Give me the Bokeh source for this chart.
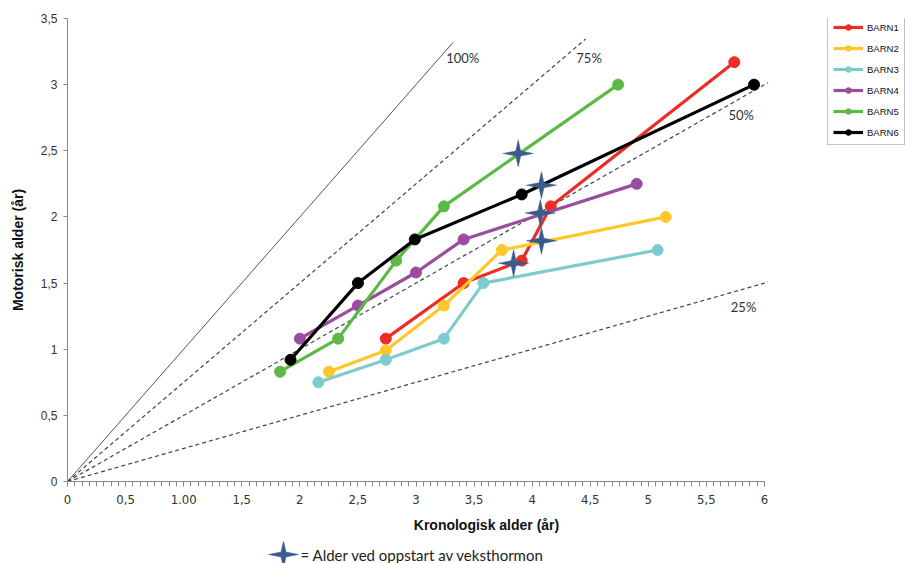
from bokeh.plotting import figure
from bokeh.layouts import column
from bokeh.models import Range1d, FixedTicker, Legend, LegendItem, Label
from bokeh.core.properties import value
from bokeh.embed import file_html
from bokeh.resources import INLINE
import numpy as np

# ---------------- data ----------------
series_names = ["BARN1", "BARN2", "BARN3", "BARN4", "BARN5", "BARN6"]
barn1_x = [2.74, 3.41, 3.91, 4.16, 5.74]
barn1_y = [1.08, 1.50, 1.67, 2.08, 3.17]
barn2_x = [2.25, 2.74, 3.24, 3.74, 5.15]
barn2_y = [0.83, 0.99, 1.33, 1.75, 2.00]
barn3_x = [2.16, 2.74, 3.24, 3.58, 5.08]
barn3_y = [0.75, 0.92, 1.08, 1.50, 1.75]
barn4_x = [2.00, 2.50, 3.00, 3.41, 4.90]
barn4_y = [1.08, 1.33, 1.58, 1.83, 2.25]
barn5_x = [1.83, 2.33, 2.83, 3.24, 4.74]
barn5_y = [0.83, 1.08, 1.67, 2.08, 3.00]
barn6_x = [1.92, 2.50, 2.99, 3.91, 5.91]
barn6_y = [0.92, 1.50, 1.83, 2.17, 3.00]

# start of growth hormone (stars)
star_x = [3.88, 4.08, 4.07, 4.08, 3.84]
star_y = [2.48, 2.24, 2.03, 1.82, 1.65]

# reference ratio lines (motor age = ratio * chronological age)
ref_ratios = [1.00, 0.75, 0.50, 0.25]
ref_end_x = [3.32, 4.46, 6.03, 6.03]
ref_labels = ["100%", "75%", "50%", "25%"]
ref_label_x = [3.26, 4.38, 5.69, 5.71]
ref_label_y = [3.20, 3.20, 2.77, 1.32]

x_ticks = [0, 0.5, 1, 1.5, 2, 2.5, 3, 3.5, 4, 4.5, 5, 5.5, 6]
x_tick_labels = ["0", "0,5", "1.00", "1,5", "2", "2,5", "3", "3,5", "4", "4,5", "5", "5,5", "6"]
y_ticks = [0, 0.5, 1, 1.5, 2, 2.5, 3, 3.5]
y_tick_labels = ["0", "0,5", "1", "1,5", "2", "2,5", "3", "3,5"]

x_title = "Kronologisk alder (år)"
y_title = "Motorisk alder (år)"
star_legend_text = "= Alder  ved oppstart av veksthormon"

# ---------------- style ----------------
colors = ["#EE2B24", "#FFC72C", "#7DCBCD", "#9A4C9E", "#5CB946", "#000000"]
star_color = "#3A5C8C"

W, H_MAIN, H_NOTE = 905, 541, 22
BL, BT, BB = 67, 18, 60
AXIS_PX = 697                     # pixel length of the 0..6 x axis
PX_X = AXIS_PX / 6.0
FH = H_MAIN - BT - BB
PX_Y = FH / 3.5
X_MAX = (W - BL) / PX_X           # frame extends right to hold the legend

p = figure(width=W, height=H_MAIN, x_range=Range1d(0, X_MAX), y_range=Range1d(0, 3.5),
           output_backend="svg", toolbar_location=None,
           min_border_left=BL, min_border_right=0, min_border_top=BT, min_border_bottom=BB)
p.xgrid.visible = False
p.ygrid.visible = False
p.outline_line_color = None
p.background_fill_color = "white"

# axes
xminor = list(np.round(np.arange(0, 6.0001, 0.0625), 4))
p.xaxis.ticker = FixedTicker(ticks=x_ticks, minor_ticks=xminor)
p.xaxis.major_label_overrides = {t: l for t, l in zip(x_ticks, x_tick_labels)}
p.xaxis.bounds = (0, 6)
p.yaxis.ticker = FixedTicker(ticks=y_ticks)
p.yaxis.major_label_overrides = {t: l for t, l in zip(y_ticks, y_tick_labels)}

for ax in (p.xaxis[0], p.yaxis[0]):
    ax.axis_line_color = "#8a8a8a"
    ax.major_tick_line_color = "#8a8a8a"
    ax.minor_tick_line_color = "#8a8a8a"
    ax.major_tick_in = 0
    ax.minor_tick_in = 0
    ax.major_label_text_color = "#333333"
    ax.major_label_text_font_size = "12px"
    ax.axis_label_text_font = "Liberation Sans"
    ax.axis_label_text_font_style = "bold"
    ax.axis_label_text_font_size = "14px"
    ax.axis_label_text_color = "#111111"

p.xaxis.major_tick_out = 5
p.xaxis.minor_tick_out = 5
p.xaxis.major_label_text_font = "Liberation Sans Narrow, DejaVu Sans Condensed"
p.xaxis.major_label_text_font_size = "13px"
p.xaxis.major_label_standoff = 8
p.xaxis.axis_label = x_title
p.xaxis.axis_label_standoff = 10

p.yaxis.major_tick_out = 4
p.yaxis.minor_tick_line_color = None
p.yaxis.major_label_text_font = "Liberation Sans"
p.yaxis.major_label_standoff = 6
p.yaxis.axis_label = y_title
p.yaxis.axis_label_standoff = 12

# reference lines
for r, xe, lab, lx, ly in zip(ref_ratios, ref_end_x, ref_labels, ref_label_x, ref_label_y):
    if r == 1.0:
        p.line([0, xe], [0, r * xe], line_color="#555555", line_width=1)
    else:
        p.line([0, xe], [0, r * xe], line_color="#444444", line_width=1.2, line_dash="4 3")
    p.add_layout(Label(x=lx, y=ly, text=lab, text_font="Lato", text_font_size="13px",
                       text_color="#333333", text_baseline="middle"))

# series
all_x = [barn1_x, barn2_x, barn3_x, barn4_x, barn5_x, barn6_x]
all_y = [barn1_y, barn2_y, barn3_y, barn4_y, barn5_y, barn6_y]
items = []
for name, xs, ys, c in zip(series_names, all_x, all_y, colors):
    l = p.line(xs, ys, line_color=c, line_width=3.2)
    s = p.scatter(xs, ys, marker="circle", size=11, fill_color=c, line_color=c)
    items.append(LegendItem(label=name, renderers=[l, s]))

# stars (4-pointed) as patches
ro_x, ro_y, ri = 15.0, 13.5, 3.5
ang = np.arange(8) * np.pi / 4
rad_x = np.where(np.arange(8) % 2 == 0, ro_x, ri)
rad_y = np.where(np.arange(8) % 2 == 0, ro_y, ri)
sxs, sys = [], []
for cx, cy in zip(star_x, star_y):
    sxs.append(list(cx + rad_x * np.cos(ang) / PX_X))
    sys.append(list(cy + rad_y * np.sin(ang) / PX_Y))
p.patches(sxs, sys, fill_color=star_color, line_color=star_color, line_width=0.5)

# legend (inside the widened frame, right of the axis end)
legend = Legend(items=items, location=(760, FH - 145 + BT), label_text_font="Liberation Sans",
                label_text_font_size="9.5px", label_text_color="#111111",
                glyph_width=30, glyph_height=14, spacing=7, padding=5, margin=0,
                label_standoff=4, label_height=14,
                border_line_color="#888888", border_line_width=1.5,
                background_fill_color="white", background_fill_alpha=1)
p.add_layout(legend, "center")

# ---------------- note row (star key) ----------------
note = figure(width=W, height=H_NOTE, x_range=Range1d(BL, W), y_range=Range1d(0, H_NOTE),
              output_backend="svg", toolbar_location=None,
              x_axis_type=None, y_axis_type=None,
              min_border_left=BL, min_border_right=0, min_border_top=0, min_border_bottom=0)
note.xgrid.visible = False
note.ygrid.visible = False
note.outline_line_color = None
note_cx, note_cy = 283, 9
note.patch(list(note_cx + rad_x * np.cos(ang)), list(note_cy + rad_y * np.sin(ang)),
           fill_color=star_color, line_color=star_color, line_width=0.5)
note.text(x=[300], y=[note_cy], text=[star_legend_text], text_font=value("Lato"),
          text_font_size="15px", text_color="#222222", text_baseline="middle")

layout = column(p, note, spacing=0)
open("out.html", "w").write(file_html(layout, INLINE))
